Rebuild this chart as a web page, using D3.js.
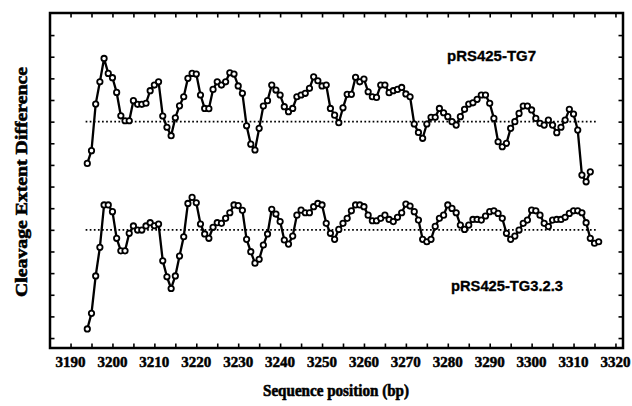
<!DOCTYPE html>
<html>
<head>
<meta charset="utf-8">
<script src="https://cdn.jsdelivr.net/npm/d3@7"></script>
<style>
	body { margin: 0; background: #fff; }
	svg { display: block; }
</style>
</head>
<body>
<svg id="chart" width="632" height="406"></svg>
<script>
//sequence positions (bp) for each series
const tg7Start = 3194;
const tg323Start = 3194;

//pRS425-TG7, plotted values (tick units), one per bp
const tg7Values = [
	8.07, 8.66, 10.81, 11.84, 12.92, 12.23, 12.03, 11.35, 10.27, 10.04,
	10.04, 10.97, 10.8, 10.8, 10.85, 11.43, 11.69, 11.84, 10.26, 9.74,
	9.35, 10.18, 10.73, 11.15, 12.0, 12.23, 12.2, 11.23, 10.61, 10.6,
	11.49, 11.84, 11.69, 11.84, 12.26, 12.2, 11.65, 11.31, 9.81, 8.96,
	8.69, 9.69, 10.72, 10.97, 11.69, 11.46, 11.23, 10.69, 10.46, 10.61,
	11.15, 11.23, 11.31, 11.54, 12.07, 11.89, 11.65, 11.69, 10.61, 10.3,
	9.95, 10.64, 11.26, 11.26, 12.05, 11.84, 11.97, 11.38, 11.15, 11.12,
	11.69, 11.69, 11.34, 11.43, 11.49, 11.58, 11.28, 11.15, 9.89, 9.5,
	9.23, 9.89, 10.2, 10.2, 10.61, 10.41, 10.23, 10.0, 9.84, 10.23,
	10.57, 10.81, 10.87, 11.03, 11.23, 11.23, 10.85, 10.15, 9.07, 8.84,
	9.0, 9.69, 10.0, 10.38, 10.72, 10.72, 10.54, 10.15, 9.92, 9.84,
	10.07, 9.84, 9.49, 9.74, 10.07, 10.57, 10.35, 9.61, 7.53, 7.22,
	7.68
];

//pRS425-TG3.2.3, plotted values (tick units), one per bp
const tg323Values = [
	0.42, 1.14, 2.87, 4.19, 6.15, 6.15, 5.84, 4.61, 4.03, 4.03,
	4.84, 5.18, 4.99, 4.99, 5.18, 5.33, 5.19, 5.27, 3.57, 2.83,
	2.29, 2.87, 3.79, 4.68, 6.22, 6.5, 6.25, 5.27, 4.81, 4.61,
	5.12, 5.33, 5.3, 5.53, 5.79, 6.15, 6.12, 5.9, 4.56, 3.99,
	3.46, 3.64, 4.3, 4.81, 5.95, 5.73, 5.38, 4.53, 4.34, 4.71,
	5.68, 5.91, 5.79, 5.79, 6.07, 6.22, 6.15, 5.3, 4.84, 4.56,
	5.02, 5.3, 5.53, 5.88, 6.15, 6.15, 6.07, 5.68, 5.42, 5.42,
	5.53, 5.68, 5.48, 5.38, 5.58, 5.79, 6.19, 6.1, 5.84, 5.45,
	4.56, 4.45, 4.56, 5.16, 5.53, 5.68, 6.15, 5.99, 5.79, 5.22,
	5.02, 5.22, 5.48, 5.48, 5.45, 5.64, 5.84, 5.88, 5.76, 5.53,
	4.84, 4.56, 4.71, 4.99, 5.3, 5.45, 5.91, 5.88, 5.68, 5.3,
	5.15, 5.45, 5.48, 5.48, 5.58, 5.76, 5.88, 5.88, 5.79, 5.33,
	4.61, 4.38, 4.45
];

//zero-difference reference level of each series
const baselines = [10, 5];
const baselineSpan = [3193.6, 3315.8];

const seriesNames = ["pRS425-TG7", "pRS425-TG3.2.3"];

//axis ticks
const xTickValues = d3.range(3190, 3321, 5);
const xTickLabels = d3.range(3190, 3321, 10);
const yTickValues = d3.range(0, 15, 1);

const draw = () => {
	const svg = d3.select("#chart");

	const margin = { left: 50, right: 9, top: 13, bottom: 58 };
	const width = +svg.attr("width");
	const height = +svg.attr("height");

	var x = d3
		.scaleLinear()
		.domain([3185.1, 3321.8])
		.range([margin.left, width - margin.right]);

	var y = d3
		.scaleLinear()
		.domain([-0.46, 15.02])
		.range([height - margin.bottom, margin.top]);

	const serif = "'Liberation Serif', 'Times New Roman', serif";
	const sans = "'Liberation Sans', Arial, sans-serif";

	//dotted baselines
	svg.append("g")
		.selectAll("line")
		.data(baselines)
		.enter()
		.append("line")
		.attr("x1", x(baselineSpan[0]))
		.attr("x2", x(baselineSpan[1]))
		.attr("y1", (d) => y(d))
		.attr("y2", (d) => y(d))
		.attr("stroke", "#000")
		.attr("stroke-width", 1.7)
		.attr("stroke-dasharray", "1.7,2.4");

	//series
	const series = [
		tg7Values.map((v, i) => ({ bp: tg7Start + i, v: v })),
		tg323Values.map((v, i) => ({ bp: tg323Start + i, v: v })),
	];

	var line = d3
		.line()
		.x((d) => x(d.bp))
		.y((d) => y(d.v));

	series.forEach((pts) => {
		var g = svg.append("g");
		g.append("path")
			.datum(pts)
			.attr("d", line)
			.attr("fill", "none")
			.attr("stroke", "#000")
			.attr("stroke-width", 2.3)
			.attr("stroke-linejoin", "round");
		g.selectAll("circle")
			.data(pts)
			.enter()
			.append("circle")
			.attr("cx", (d) => x(d.bp))
			.attr("cy", (d) => y(d.v))
			.attr("r", 2.7)
			.attr("fill", "#fff")
			.attr("stroke", "#000")
			.attr("stroke-width", 1.8);
	});

	//axes: ticks point inward on all four sides
	const bottom = height - margin.bottom;
	const right = width - margin.right;

	svg.append("g")
		.attr("transform", "translate(0," + bottom + ")")
		.call(d3.axisBottom(x).tickValues(xTickValues).tickSize(-4.5).tickFormat(""));
	svg.append("g")
		.attr("transform", "translate(0," + margin.top + ")")
		.call(d3.axisTop(x).tickValues(xTickValues).tickSize(-4.5).tickFormat(""));
	svg.append("g")
		.attr("transform", "translate(" + margin.left + ",0)")
		.call(d3.axisLeft(y).tickValues(yTickValues).tickSize(-4.5).tickFormat(""));
	svg.append("g")
		.attr("transform", "translate(" + right + ",0)")
		.call(d3.axisRight(y).tickValues(yTickValues).tickSize(-4.5).tickFormat(""));

	svg.selectAll(".domain").remove();
	svg.selectAll(".tick line").attr("stroke", "#000").attr("stroke-width", 1.6);

	//frame
	svg.append("rect")
		.attr("x", margin.left)
		.attr("y", margin.top)
		.attr("width", right - margin.left)
		.attr("height", bottom - margin.top)
		.attr("fill", "none")
		.attr("stroke", "#000")
		.attr("stroke-width", 2.5);

	//x tick labels
	svg.append("g")
		.selectAll("text")
		.data(xTickLabels)
		.enter()
		.append("text")
		.attr("x", (d) => x(d))
		.attr("y", 367)
		.attr("text-anchor", "middle")
		.attr("stroke", "#000")
		.attr("stroke-width", 0.5)
		.style("font-family", serif)
		.style("font-weight", "bold")
		.style("font-size", "15px")
		.text((d) => d);

	//axis titles
	svg.append("text")
		.attr("x", 336)
		.attr("y", 396)
		.attr("text-anchor", "middle")
		.attr("textLength", 146)
		.attr("lengthAdjust", "spacingAndGlyphs")
		.attr("stroke", "#000")
		.attr("stroke-width", 0.6)
		.style("font-family", serif)
		.style("font-weight", "bold")
		.style("font-size", "17px")
		.text("Sequence position (bp)");

	svg.append("text")
		.attr("transform", "translate(27,182) rotate(-90)")
		.attr("text-anchor", "middle")
		.attr("textLength", 230)
		.attr("lengthAdjust", "spacingAndGlyphs")
		.attr("stroke", "#000")
		.attr("stroke-width", 0.6)
		.style("font-family", serif)
		.style("font-weight", "bold")
		.style("font-size", "17px")
		.text("Cleavage Extent Difference");

	//series labels
	const labelPos = [
		{ x: 447, y: 61, w: 89 },
		{ x: 451, y: 291, w: 112 },
	];
	svg.append("g")
		.selectAll("text")
		.data(seriesNames)
		.enter()
		.append("text")
		.attr("x", (d, i) => labelPos[i].x)
		.attr("y", (d, i) => labelPos[i].y)
		.attr("textLength", (d, i) => labelPos[i].w)
		.attr("lengthAdjust", "spacingAndGlyphs")
		.attr("stroke", "#000")
		.attr("stroke-width", 0.3)
		.style("font-family", sans)
		.style("font-weight", "bold")
		.style("font-size", "14px")
		.text((d) => d);
};

draw();
</script>
</body>
</html>
